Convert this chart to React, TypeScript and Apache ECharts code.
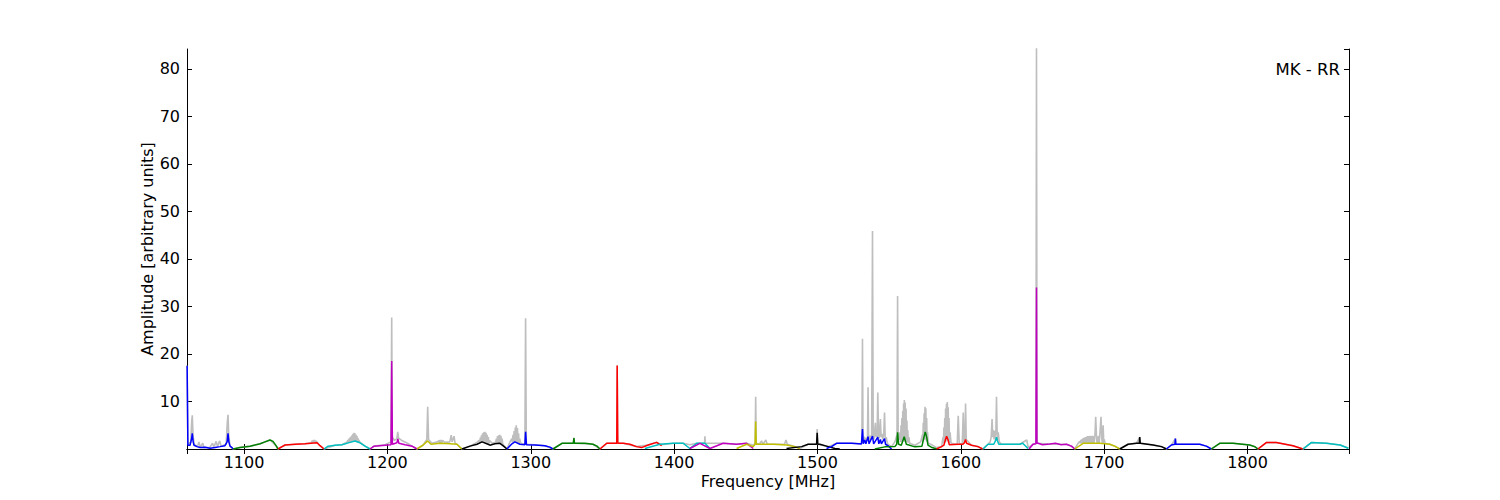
import React, { useEffect, useRef } from "react";
import * as echarts from "echarts";

type Pt = [number, number];

// Raw spectrum (grey), frequency [MHz] vs amplitude
const rawSpectrum: Pt[] = [
  [1060.3, 17.5], [1060.8, 1.0], [1062.8, 1.5], [1063.5, 6.0], [1063.9, 7.1], [1064.4, 3.0], [1065.2, 1.0],
  [1067.5, 0.5], [1068.5, 1.5], [1069.5, 0.4], [1071.2, 1.2], [1072, 0.3], [1076, 0.3], [1078, 1.2], [1079, 0.4],
  [1080.5, 1.6], [1081.5, 0.6], [1083, 1.7], [1084, 0.6], [1087.5, 1.0], [1088.3, 5.5], [1088.8, 7.2], [1089.3, 3.0],
  [1090.2, 0.6], [1092.3, 0], [1097.2, 0.3], [1104.2, 0.6], [1111.2, 1.1], [1118.1, 1.9], [1122.3, 0.7], [1123.7, 0],
  [1128.6, 0.84], [1142.5, 1.1], [1147, 1.3], [1147.6, 1.8], [1148, 1.3], [1148.5, 1.9], [1148.9, 1.3], [1149.4, 1.9],
  [1149.8, 1.3], [1150.3, 1.7], [1151, 1.4], [1153, 0.7], [1155.8, 0],
  [1163.5, 0.8], [1168.3, 0.9], [1172, 1.5], [1172.5, 1.9], [1172.8, 1.3], [1173.2, 2.2], [1173.5, 1.3], [1173.9, 2.4],
  [1174.2, 1.4], [1174.6, 2.6], [1174.9, 1.4], [1175.3, 2.9], [1175.6, 1.5], [1176, 3.2], [1176.3, 1.5], [1176.7, 3.4],
  [1177, 1.6], [1177.4, 3.3], [1177.7, 1.6], [1178.1, 3.0], [1178.4, 1.5], [1178.8, 2.7], [1179.1, 1.4], [1179.5, 2.3],
  [1179.8, 1.3], [1180.2, 1.9], [1180.5, 1.3], [1181, 1.5], [1181.5, 1.3], [1184.4, 0.6], [1187.9, 0],
  [1190.7, 0.6], [1198.3, 0.9], [1202.5, 1.5], [1203.0, 27.7], [1203.4, 2.5], [1205, 1.8], [1206.6, 2.2], [1207.2, 3.6],
  [1207.8, 2.3], [1210, 1.8], [1214, 1.2], [1217.2, 0.6], [1220.6, 0],
  [1224.8, 0.8], [1227.5, 2.0], [1228.1, 8.9], [1228.7, 2.0], [1231, 1.2], [1235, 1.5], [1236, 1.8], [1236.4, 1.2],
  [1236.8, 1.9], [1237.2, 1.2], [1237.6, 1.9], [1238, 1.2], [1238.4, 1.8], [1240, 1.4],
  [1243.5, 1.5], [1244.5, 2.9], [1245.2, 1.5], [1246.5, 2.7], [1247.2, 1.2], [1248.5, 1.0], [1252, 0],
  [1257.6, 0.6], [1262.5, 1.4], [1264, 1.8], [1264.4, 1.2], [1264.8, 2.4], [1265.2, 1.3], [1265.6, 2.9], [1266, 1.4],
  [1266.4, 3.3], [1266.8, 1.4], [1267.2, 3.5], [1267.6, 1.4], [1268, 3.6], [1268.4, 1.3], [1268.8, 3.4], [1269.2, 1.2],
  [1269.6, 3.0], [1270, 1.1], [1270.4, 2.5], [1270.8, 1.0], [1271.3, 1.8], [1273, 1.2],
  [1275.5, 1.4], [1276, 2.2], [1276.4, 1.1], [1276.8, 2.7], [1277.2, 1.2], [1277.6, 2.9], [1278, 1.2], [1278.4, 3.0],
  [1278.8, 1.2], [1279.2, 2.8], [1279.6, 1.1], [1280, 2.2], [1280.5, 1.0], [1283.4, 0],
  [1285.5, 1.5], [1286.8, 2.2], [1287.2, 1.4], [1287.6, 3.0], [1288, 1.5], [1288.4, 3.8], [1288.8, 1.5], [1289.2, 4.5],
  [1289.6, 1.4], [1289.9, 5.0], [1290.3, 1.3], [1290.7, 4.4], [1291.1, 1.2], [1291.5, 3.3], [1291.9, 1.1], [1292.3, 2.2],
  [1293, 1.2], [1295.9, 1.0], [1296.4, 27.5], [1296.9, 1.0], [1302.9, 0.9], [1309.9, 0.7], [1315.5, 0],
  [1321.8, 1.2], [1329.7, 1.2], [1330.1, 2.4], [1330.5, 1.2], [1343.4, 1.0], [1348.3, 0],
  [1353, 1.2], [1360.0, 1.2], [1360.3, 17.6], [1360.6, 1.2], [1364.5, 1.2], [1373.8, 0.5], [1381.9, 0.84],
  [1387.8, 1.4], [1391.3, 0.9], [1399.4, 1.2], [1406.4, 1.2], [1411, 0.9], [1415.7, 1.2], [1421.2, 1.2], [1421.5, 2.7],
  [1421.8, 1.2], [1434.2, 1.2], [1443.6, 1.0], [1450.6, 1.2], [1455.2, 0.8],
  [1456.5, 1.2], [1456.9, 11.0], [1457.3, 1.2], [1459.5, 1.0], [1461, 1.7], [1462, 1.0], [1464, 1.9], [1465, 1.0],
  [1469.1, 1.0], [1477, 1.0], [1478, 1.9], [1479, 1.0], [1484.2, 0.5], [1487.7, 0.1],
  [1493.5, 1.0], [1499.4, 1.0], [1499.8, 4.2], [1500.2, 1.0], [1507.5, 0.5], [1513.3, 1.2],
  [1523.8, 1.2], [1530.7, 1.1], [1531.0, 2.0], [1531.4, 23.2], [1531.8, 2.0], [1532.4, 2.6], [1533, 1.6], [1533.6, 2.4],
  [1534.2, 1.6], [1534.9, 2.5], [1535.3, 13.0], [1535.7, 2.5], [1536.3, 2.0], [1536.9, 2.8], [1537.4, 2.0], [1537.8, 2.7],
  [1538.4, 45.9], [1538.9, 3.0], [1539.4, 2.0], [1540.0, 4.0], [1540.4, 5.5], [1540.8, 2.5], [1541.2, 3.2], [1541.6, 2.5],
  [1542.1, 11.9], [1542.6, 3.0], [1543.1, 2.2], [1543.9, 6.3], [1544.4, 2.5], [1545, 3.2], [1545.5, 2.0], [1546.2, 3.0],
  [1546.8, 7.7], [1547.3, 2.0], [1548.0, 2.5], [1548.5, 1.5], [1549.1, 1.0], [1551.7, 0.5],
  [1554, 1.5], [1555.5, 3.0], [1555.9, 32.2], [1556.3, 3.0], [1557.2, 2.0], [1557.6, 3.5], [1558, 1.5], [1558.3, 5.0],
  [1558.6, 1.5], [1558.9, 6.5], [1559.2, 1.5], [1559.5, 8.0], [1559.8, 1.6], [1560.1, 9.6], [1560.4, 1.6], [1560.6, 10.3],
  [1560.9, 1.6], [1561.2, 9.8], [1561.5, 1.6], [1561.8, 8.5], [1562.1, 1.5], [1562.4, 6.0], [1562.7, 1.4], [1563.0, 4.0],
  [1563.4, 1.3], [1563.8, 2.5], [1564.3, 1.2], [1568, 0.8], [1572, 1.5], [1573.2, 3.0], [1573.5, 1.5], [1573.8, 5.5],
  [1574.1, 1.8], [1574.4, 7.5], [1574.7, 2.0], [1575.0, 8.9], [1575.3, 2.0], [1575.6, 8.6], [1575.9, 1.8], [1576.2, 6.5],
  [1576.5, 1.5], [1576.8, 3.5], [1577.2, 1.2], [1579, 1.0], [1583.1, 0.3],
  [1586.6, 0.5], [1587.6, 2.5], [1587.9, 1.2], [1588.2, 4.5], [1588.5, 1.3], [1588.8, 6.5], [1589.1, 1.4], [1589.4, 8.5],
  [1589.7, 1.6], [1590.0, 9.5], [1590.3, 1.8], [1590.6, 9.9], [1590.9, 1.8], [1591.2, 8.8], [1591.5, 1.5], [1591.8, 6.5],
  [1592.1, 1.3], [1592.5, 3.5], [1593.2, 1.2],
  [1597.5, 1.0], [1598.2, 7.0], [1598.9, 1.2], [1601, 1.0], [1601.7, 7.7], [1602.3, 1.2], [1603.0, 3.0], [1603.3, 9.6],
  [1603.8, 2.0], [1607.5, 0.8], [1612, 0.5], [1615.3, 0],
  [1619, 1.0], [1620.5, 1.5], [1621.2, 2.5], [1621.8, 6.3], [1622.3, 2.5], [1622.8, 4.0], [1623.2, 2.0], [1623.7, 3.8],
  [1624.1, 2.0], [1624.5, 4.2], [1624.9, 11.0], [1625.3, 4.0], [1625.7, 2.0], [1626.1, 3.5], [1626.8, 1.5],
  [1628.3, 1.0], [1641.1, 1.0], [1646, 1.9], [1647, 0.3],
  [1650.4, 1.0], [1652.4, 1.2], [1652.8, 84.5], [1653.2, 1.2], [1662, 1.05], [1673.7, 1.0], [1677.2, 0.6], [1679.5, 0],
  [1682, 1.3], [1683, 1.6], [1683.4, 1.2], [1683.8, 1.9], [1684.2, 1.2], [1684.6, 2.1], [1685, 1.2], [1685.4, 2.3],
  [1685.8, 1.2], [1686.2, 2.4], [1686.6, 1.2], [1687, 2.5], [1687.4, 1.2], [1687.8, 2.6], [1688.2, 1.2], [1688.6, 2.7],
  [1689, 1.2], [1689.4, 2.7], [1689.8, 1.2], [1690.2, 2.8], [1690.6, 1.2], [1691, 2.7], [1691.4, 1.2], [1691.8, 2.8],
  [1692.2, 1.2], [1692.6, 2.7], [1693, 1.2], [1693.6, 3.0], [1694.1, 6.8], [1694.6, 3.0], [1695, 1.2], [1695.4, 2.6],
  [1695.8, 1.2], [1696.2, 2.8], [1696.6, 1.2], [1697.0, 3.0], [1697.8, 6.8], [1698.3, 2.5], [1698.7, 1.2], [1699.3, 5.0],
  [1699.7, 1.2], [1700.1, 2.0], [1700.6, 1.2], [1703.9, 1.0], [1707.4, 0.6], [1710.9, 0],
  [1716.7, 1.0], [1722.5, 1.2], [1724.8, 2.5], [1725.2, 1.2], [1734.1, 0.84], [1740, 0.5], [1743.4, 0],
  [1746.9, 0.84], [1749.7, 2.2], [1750, 1.0], [1757.4, 1.0], [1766.7, 1.0], [1771.3, 0.6], [1774.8, 0],
  [1780.6, 1.2], [1789.9, 1.2], [1801.5, 0.84], [1805, 0.5], [1807.3, 0],
  [1813.1, 1.35], [1820.1, 1.35], [1831.7, 0.7], [1838.7, 0],
  [1844.5, 1.35], [1855, 1.2], [1864.6, 0.84], [1870.4, 0.15],
];

// Fitted sub-band spectra (coloured), in plotting order
const seg01: Pt[] = [[1060.3, 17.5], [1060.8, 0.8], [1062.3, 0.8], [1063.3, 2.0], [1063.9, 3.3], [1064.5, 1.5], [1065.1, 0.8], [1067.2, 0.5], [1069.3, 0.3], [1072.8, 0.35], [1076.3, 0.15], [1079.8, 0.3], [1083.3, 0.5], [1086.7, 0.7], [1088.2, 1.5], [1088.8, 3.3], [1089.4, 1.5], [1090.2, 0.6], [1091.6, 0.3], [1092.3, 0]];
const seg02: Pt[] = [[1092.3, 0], [1097.2, 0.3], [1104.2, 0.6], [1111.2, 1.1], [1114.6, 1.5], [1118.1, 1.9], [1120.2, 1.6], [1122.3, 0.7], [1123.7, 0]];
const seg03: Pt[] = [[1123.7, 0], [1126.5, 0.5], [1128.6, 0.84], [1135.6, 1.0], [1142.5, 1.1], [1150.9, 1.3], [1153.0, 0.7], [1155.8, 0]];
const seg04: Pt[] = [[1155.8, 0], [1158.6, 0.6], [1163.5, 0.8], [1168.3, 0.9], [1173.9, 1.4], [1177.4, 1.7], [1180.9, 1.3], [1184.4, 0.6], [1187.9, 0]];
const seg05: Pt[] = [[1187.9, 0], [1190.7, 0.6], [1198.3, 0.8], [1202.5, 0.9], [1203.0, 18.5], [1203.5, 1.0], [1206.6, 1.3], [1207.3, 2.1], [1208.0, 1.2], [1212.3, 0.9], [1217.2, 0.6], [1220.6, 0]];
const seg06: Pt[] = [[1220.6, 0], [1224.8, 0.8], [1228.1, 1.7], [1230.4, 1.0], [1236.7, 1.2], [1243.7, 1.1], [1248.5, 1.0], [1252.0, 0]];
const seg07: Pt[] = [[1252.0, 0], [1257.6, 0.6], [1262.5, 1.0], [1266.0, 1.5], [1270.2, 1.0], [1271.5, 0.8], [1275.0, 1.1], [1278.5, 1.2], [1280.6, 0.7], [1283.4, 0]];
const seg08: Pt[] = [[1283.4, 0], [1286.9, 1.1], [1288.9, 1.5], [1292.4, 1.0], [1295.9, 0.9], [1296.4, 3.6], [1297.0, 0.9], [1302.9, 0.85], [1309.9, 0.7], [1313.4, 0.4], [1315.5, 0]];
const seg09: Pt[] = [[1315.5, 0], [1321.8, 1.2], [1329.7, 1.2], [1330.1, 2.3], [1330.5, 1.2], [1337.8, 1.2], [1343.4, 1.0], [1346.2, 0.6], [1348.3, 0]];
const seg10: Pt[] = [[1348.3, 0], [1353.0, 1.2], [1360.0, 1.2], [1360.3, 17.6], [1360.7, 1.2], [1364.5, 1.2], [1369.2, 1.0], [1373.8, 0.5], [1377.3, 0.3], [1381.9, 0.84], [1387.8, 1.4], [1391.3, 0.7]];
const seg11: Pt[] = [[1379.6, 0.1], [1390.1, 1.0], [1399.4, 1.2], [1406.4, 1.2], [1411.0, 0.1], [1415.7, 1.2], [1421.5, 1.2], [1425.0, 0.1]];
const seg12: Pt[] = [[1411.0, 0.1], [1418.0, 1.2], [1425.0, 0.1], [1434.2, 1.2], [1443.6, 1.0], [1450.6, 1.2], [1455.2, 0.1]];
const seg13: Pt[] = [[1443.6, 0.1], [1450.6, 1.0], [1455.2, 0.5], [1456.5, 1.0], [1456.9, 5.8], [1457.3, 1.0], [1458.7, 1.0], [1469.1, 1.0], [1478.4, 0.84], [1484.2, 0.5], [1487.7, 0.1]];
const seg14: Pt[] = [[1478.4, 0.1], [1488.9, 0.5], [1493.5, 1.0], [1499.4, 1.0], [1499.8, 3.4], [1500.2, 1.0], [1501.7, 1.0], [1507.5, 0.5], [1512.2, 0.1], [1515.6, 0]];
const seg15: Pt[] = [[1506.3, 0.1], [1509.8, 0.5], [1513.3, 1.2], [1523.8, 1.2], [1530.7, 1.05], [1531.4, 4.2], [1532.0, 1.1], [1533.0, 1.9], [1533.8, 1.1], [1535.3, 2.6], [1536.0, 1.1], [1538.4, 2.7], [1539.2, 1.1], [1542.1, 2.5], [1542.8, 1.1], [1543.9, 2.0], [1544.6, 1.1], [1546.8, 2.2], [1547.5, 1.0], [1549.1, 0.7], [1551.7, 0]];
const seg16: Pt[] = [[1540.0, 0], [1547.0, 0.45], [1554.0, 0.5], [1555.3, 1.0], [1555.9, 3.5], [1556.6, 1.0], [1558.5, 0.8], [1560.5, 2.6], [1562.0, 1.0], [1568.0, 0.45], [1572.9, 0.6], [1574.3, 2.5], [1575.2, 3.6], [1576.2, 2.5], [1577.1, 0.8], [1579.9, 0.3], [1583.3, 0]];
const seg17: Pt[] = [[1583.1, 0], [1586.6, 0.5], [1588.2, 0.8], [1589.3, 2.0], [1590.1, 2.7], [1591.0, 2.0], [1592.0, 0.9], [1598.2, 1.0], [1601.5, 1.0], [1602.5, 1.3], [1603.3, 2.0], [1604.0, 1.2], [1607.5, 0.8], [1612.0, 0.5], [1615.3, 0]];
const seg18: Pt[] = [[1615.5, 0], [1619.0, 1.0], [1623.0, 1.0], [1624.3, 1.8], [1624.9, 2.5], [1625.5, 1.8], [1626.5, 1.0], [1628.3, 1.0], [1634.1, 1.0], [1641.1, 1.0], [1643.2, 1.2], [1646.9, 0.1]];
const seg19: Pt[] = [[1647.6, 0], [1650.4, 1.0], [1652.4, 1.1], [1652.8, 34.0], [1653.1, 1.2], [1653.9, 1.2], [1657.0, 0.9], [1662.0, 1.05], [1666.0, 1.2], [1670.0, 0.9], [1673.7, 1.0], [1677.2, 0.6], [1679.5, 0]];
const seg20: Pt[] = [[1679.5, 0], [1685.3, 1.2], [1691.4, 1.2], [1696.9, 1.2], [1703.9, 1.0], [1707.4, 0.6], [1710.9, 0]];
const seg21: Pt[] = [[1710.9, 0], [1716.7, 1.0], [1722.5, 1.2], [1724.5, 1.2], [1724.8, 2.5], [1725.2, 1.2], [1734.1, 0.84], [1740.0, 0.5], [1743.4, 0]];
const seg22: Pt[] = [[1743.4, 0], [1746.9, 0.84], [1749.3, 1.0], [1749.7, 2.2], [1750.0, 1.0], [1757.4, 1.0], [1766.7, 1.0], [1771.3, 0.6], [1774.8, 0]];
const seg23: Pt[] = [[1774.8, 0], [1780.6, 1.2], [1789.9, 1.2], [1801.5, 0.84], [1805.0, 0.5], [1807.3, 0]];
const seg24: Pt[] = [[1807.3, 0], [1813.1, 1.35], [1820.1, 1.35], [1831.7, 0.7], [1838.7, 0]];
const seg25: Pt[] = [[1838.7, 0], [1844.5, 1.35], [1855.0, 1.2], [1864.6, 0.84], [1870.4, 0.15]];

const segments: Pt[][] = [
  seg01, seg02, seg03, seg04, seg05, seg06, seg07, seg08, seg09, seg10, seg11, seg12, seg13,
  seg14, seg15, seg16, seg17, seg18, seg19, seg20, seg21, seg22, seg23, seg24, seg25,
];

const colorCycle = ["#0000ff", "#008000", "#ff0000", "#00bfbf", "#bf00bf", "#bfbf00", "#000000"];

const xMin = 1060.2;
const xMax = 1870.8;
const yMin = 0;
const yMax = 84.2;

const FONT = "DejaVu Sans";

export default function App() {
  const ref = useRef<HTMLDivElement>(null);
  useEffect(() => {
    if (!ref.current) return;
    const chart = echarts.init(ref.current, undefined, { renderer: "svg" });
    const tickStyle = { show: true, inside: true, length: 5, lineStyle: { color: "#000", width: 1 } };
    const lineStyle = { show: true, lineStyle: { color: "#000", width: 1 } };
    const series: any[] = [
      {
        type: "line",
        data: rawSpectrum,
        showSymbol: false,
        lineStyle: { color: "#bebebe", width: 1.6 },
        itemStyle: { color: "#bebebe" },
        silent: true,
        z: 1,
      },
      ...segments.map((s, i) => ({
        type: "line",
        data: s,
        showSymbol: false,
        lineStyle: { color: colorCycle[i % colorCycle.length], width: 1.5 },
        itemStyle: { color: colorCycle[i % colorCycle.length] },
        silent: true,
        z: 2 + i,
      })),
    ];
    chart.setOption({
      animation: false,
      backgroundColor: "#ffffff",
      textStyle: { fontFamily: FONT },
      grid: { left: 187, top: 49, width: 1162, height: 400, containLabel: false },
      xAxis: [
        {
          type: "value",
          min: xMin,
          max: xMax,
          minInterval: 100,
          maxInterval: 100,
          position: "bottom",
          name: "Frequency [MHz]",
          nameLocation: "middle",
          nameGap: 24,
          nameMoveOverlap: false,
          nameTextStyle: { fontFamily: FONT, fontSize: 16, color: "#000" },
          axisLine: lineStyle,
          axisTick: tickStyle,
          splitLine: { show: false },
          axisLabel: {
            fontFamily: FONT,
            fontSize: 16,
            color: "#000",
            margin: 5,
            showMinLabel: false,
            showMaxLabel: false,
            formatter: (v: number) => (Math.abs(v % 100) < 1e-6 ? String(v) : ""),
          },
        },
        {
          type: "value",
          min: xMin,
          max: xMax,
          minInterval: 100,
          maxInterval: 100,
          position: "top",
          axisLine: lineStyle,
          axisTick: tickStyle,
          axisLabel: { show: false },
          splitLine: { show: false },
        },
      ],
      yAxis: [
        {
          type: "value",
          min: yMin,
          max: yMax,
          interval: 10,
          position: "left",
          name: "Amplitude [arbitrary units]",
          nameLocation: "middle",
          nameGap: 32,
          nameMoveOverlap: false,
          nameRotate: 90,
          nameTextStyle: { fontFamily: FONT, fontSize: 16, color: "#000" },
          axisLine: lineStyle,
          axisTick: tickStyle,
          splitLine: { show: false },
          axisLabel: {
            fontFamily: FONT,
            fontSize: 16,
            color: "#000",
            margin: 7,
            showMaxLabel: false,
            formatter: (v: number) => (v > 0 && Math.abs(v % 10) < 1e-6 ? String(v) : ""),
          },
        },
        {
          type: "value",
          min: yMin,
          max: yMax,
          interval: 10,
          position: "right",
          axisLine: lineStyle,
          axisTick: tickStyle,
          axisLabel: { show: false },
          splitLine: { show: false },
        },
      ],
      graphic: [
        {
          type: "text",
          right: 1500 - 1340,
          top: 61,
          style: { text: "MK - RR", fontFamily: FONT, fontSize: 16.5, fill: "#000" },
        },
      ],
      series,
    });
    return () => chart.dispose();
  }, []);
  return (
    <div
      ref={ref}
      style={{ position: "fixed", left: 0, top: 0, width: 1500, height: 500, background: "#fff" }}
    />
  );
}
